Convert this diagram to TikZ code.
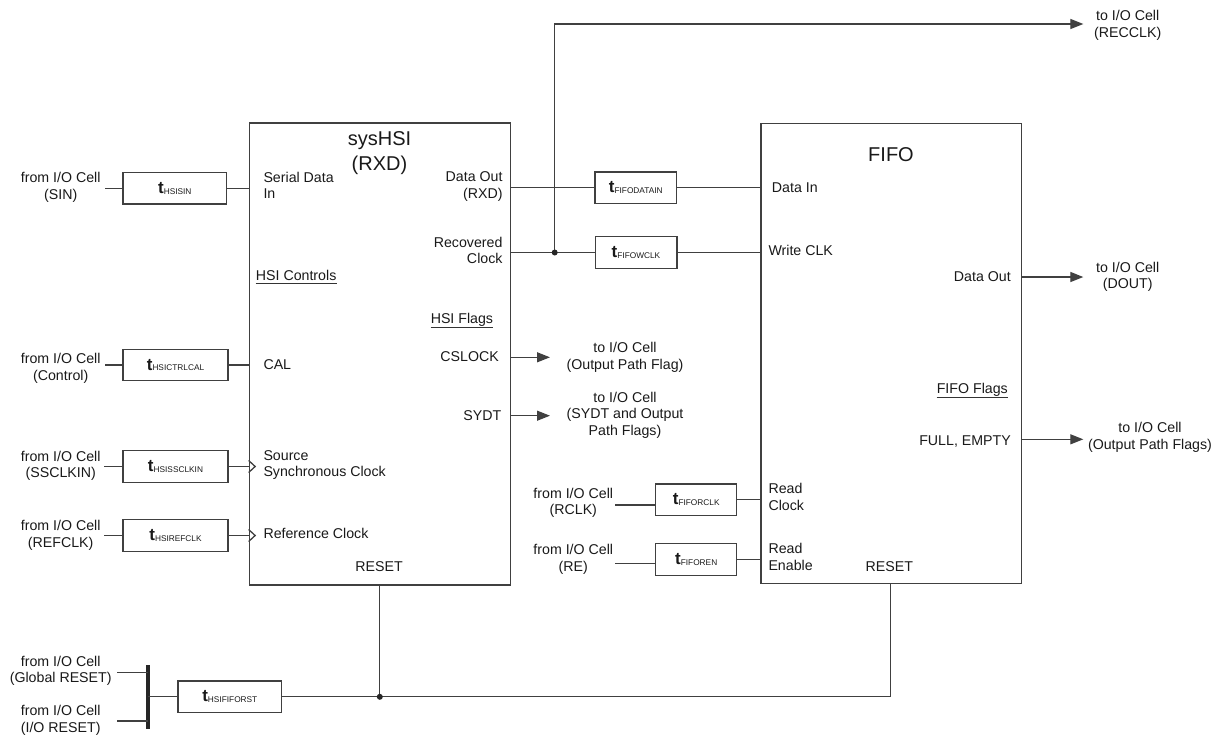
\documentclass[tikz,border=0pt]{standalone}
\usepackage{fontspec}
\setmainfont{Liberation Sans}
\usetikzlibrary{arrows.meta,calc}
\newcommand\lfont{\fontsize{14.2}{16.7}\selectfont}
\newcommand\tfont{\fontsize{20}{25}\selectfont}
\newcommand\lstrut{\rule{0pt}{11.7pt}}
\newcommand\tstrut{\rule{0pt}{16.5pt}}
\newcommand\tdel[1]{{\fontsize{17}{17}\selectfont\bfseries t}\raisebox{-0.8pt}{\fontsize{8.3}{8.3}\selectfont #1}}
\begin{document}
\begin{tikzpicture}[x=1pt,y=-1pt,
  wire/.style={line width=1.3pt, draw=black!75},
  arr/.style={wire, -{Triangle[length=13pt,width=10pt]}},
  txt/.style={inner sep=0pt, font=\lfont, text=black!90},
  lbl/.style={txt, execute at begin node=\lstrut, yshift=11.7pt},
  ttl/.style={inner sep=0pt, font=\tfont, text=black!90, align=center, execute at begin node=\tstrut, yshift=16.5pt, anchor=north},
  blk/.style={wire, draw, inner sep=0pt},
  dbox/.style={wire, draw, inner sep=0pt, minimum height=31.5pt, text=black!90},
  dot/.style={fill=black!85}
]
\useasboundingbox (0,0) rectangle (1212,736);

% main blocks
\node[blk, minimum width=261pt, minimum height=462pt] (hsi) at (379.8,354) {};
\node[blk, minimum width=260.7pt, minimum height=460pt] (fifo) at (891.3,353.3) {};
\node[ttl] (hsititle) at (379.5,148) {sysHSI\\(RXD)};
\node[ttl] (fifotitle) at (891,161.7) {FIFO};

% delay boxes
\node[dbox, minimum width=103.7pt] (dSIN) at (174.8,188.2) {\tdel{HSISIN}};
\node[dbox, minimum width=105pt] (dCAL) at (175.5,365) {\tdel{HSICTRLCAL}};
\node[dbox, minimum width=105pt] (dSSC) at (175.5,466.5) {\tdel{HSISSCLKIN}};
\node[dbox, minimum width=105pt] (dREF) at (175.5,535.5) {\tdel{HSIREFCLK}};
\node[dbox, minimum width=81.7pt] (dData) at (635.8,187.6) {\tdel{FIFODATAIN}};
\node[dbox, minimum width=81.7pt] (dWclk) at (636,252.5) {\tdel{FIFOWCLK}};
\node[dbox, minimum width=81pt] (dRclk) at (696.2,499.6) {\tdel{FIFORCLK}};
\node[dbox, minimum width=81pt] (dRen) at (696.2,559.5) {\tdel{FIFOREN}};
\node[dbox, minimum width=103.7pt] (dRst) at (229.8,696.8) {\tdel{HSIFIFORST}};

% left input labels
\node[lbl, anchor=north, align=center] (lSIN) at (60.7,184) {from I/O Cell\\(SIN)};
\node[lbl, anchor=north, align=center] (lCAL) at (60.7,365) {from I/O Cell\\(Control)};
\node[lbl, anchor=north, align=center] (lSSC) at (60.7,462.3) {from I/O Cell\\(SSCLKIN)};
\node[lbl, anchor=north, align=center] (lREF) at (60.7,531.7) {from I/O Cell\\(REFCLK)};
\node[lbl, anchor=north, align=center] (lGR) at (60.7,667.3) {from I/O Cell\\(Global RESET)};
\node[lbl, anchor=north, align=center] (lIOR) at (60.7,716.7) {from I/O Cell\\(I/O RESET)};

% sysHSI inner labels
\node[lbl, anchor=north west, align=left] (pSDI) at (263.3,183.3) {Serial Data\\In};
\node[txt, anchor=base west] (pHC) at (255.7,280) {HSI Controls};
\draw[line width=0.9pt, black!80] ([yshift=-3.4pt]pHC.base west) -- ([yshift=-3.4pt]pHC.base east);
\node[txt, anchor=base west] (pCAL) at (263.3,369) {CAL};
\node[lbl, anchor=north west, align=left] (pSSC) at (263.3,461.7) {Source\\Synchronous Clock};
\node[txt, anchor=base west] (pREF) at (263.3,538.3) {Reference Clock};
\node[txt, anchor=base] (pRST1) at (379,571.7) {RESET};
\node[lbl, anchor=north east, align=right] (pDO) at (502.7,183.3) {Data Out\\(RXD)};
\node[lbl, anchor=north east, align=right] (pRC) at (502.7,248.3) {Recovered\\Clock};
\node[txt, anchor=base east] (pHF) at (493.3,323.3) {HSI Flags};
\draw[line width=0.9pt, black!80] ([yshift=-4.2pt]pHF.base west) -- ([yshift=-4.2pt]pHF.base east);
\node[txt, anchor=base east] (pCS) at (499,361.7) {CSLOCK};
\node[txt, anchor=base east] (pSY) at (501.5,420.7) {SYDT};

% FIFO inner labels
\node[txt, anchor=base west] (fDI) at (771.7,192.3) {Data In};
\node[txt, anchor=base west] (fWC) at (768.3,255.7) {Write CLK};
\node[txt, anchor=base east] (fDO) at (1011,281.7) {Data Out};
\node[txt, anchor=base east] (fFF) at (1008,393.3) {FIFO Flags};
\draw[line width=0.9pt, black!80] ([yshift=-4.6pt]fFF.base west) -- ([yshift=-4.6pt]fFF.base east);
\node[txt, anchor=base east] (fFE) at (1011,445) {FULL, EMPTY};
\node[lbl, anchor=north west, align=left] (fRC) at (768.3,495) {Read\\Clock};
\node[lbl, anchor=north west, align=left] (fRE) at (768.3,555) {Read\\Enable};
\node[txt, anchor=base] (fRST) at (889.3,571.7) {RESET};

% output / other labels
\node[lbl, anchor=north, align=center] (oCS) at (625,354) {to I/O Cell\\(Output Path Flag)};
\node[lbl, anchor=north, align=center] (oSY) at (625,403.3) {to I/O Cell\\(SYDT and Output\\Path Flags)};
\node[lbl, anchor=north, align=center] (lRCLK) at (573.3,499.3) {from I/O Cell\\(RCLK)};
\node[lbl, anchor=north, align=center] (lRE) at (573.3,555.7) {from I/O Cell\\(RE)};
\node[lbl, anchor=north, align=center] (oREC) at (1127.7,21.7) {to I/O Cell\\(RECCLK)};
\node[lbl, anchor=north, align=center] (oDOUT) at (1127.7,273.3) {to I/O Cell\\(DOUT)};
\node[lbl, anchor=north, align=center] (oFE) at (1150,434) {to I/O Cell\\(Output Path Flags)};

% free ends
\coordinate (inSIN) at (105,188.2);
\coordinate (inCAL) at (105,365);
\coordinate (inSSC) at (104,466.5);
\coordinate (inREF) at (104,535.5);
\coordinate (inRCLK) at (615,505);
\coordinate (inRE) at (615,563.3);
\coordinate (tCS) at (550,357.3);
\coordinate (tSY) at (550,415.7);
\coordinate (tREC) at (1083.3,24);
\coordinate (tDOUT) at (1083.3,277);
\coordinate (tFE) at (1083.3,439.3);
\coordinate (jx) at (554.7,24);
\coordinate (jr) at (jx |- dWclk.west);
\coordinate (barT) at (147.7,665);
\coordinate (barB) at (147.7,729);
\coordinate (inGR) at (117,672.7);
\coordinate (inIOR) at (117,721);
\coordinate (jrst) at (hsi.south |- dRst.east);
\coordinate (frc) at (890.7,696.8);

% left inputs
\draw[wire] (inSIN) -- (inSIN -| dSIN.west);
\draw[wire] (dSIN.east) -- (dSIN.east -| hsi.west);
\draw[wire] (inCAL) -- (inCAL -| dCAL.west);
\draw[wire] (dCAL.east) -- (dCAL.east -| hsi.west);
\draw[wire] (inSSC) -- (inSSC -| dSSC.west);
\draw[wire] (dSSC.east) -- (dSSC.east -| hsi.west);
\draw[wire] (inREF) -- (inREF -| dREF.west);
\draw[wire] (dREF.east) -- (dREF.east -| hsi.west);
% clock chevrons
\draw[wire] ($(dSSC.east -| hsi.west)+(0,-6)$) -- ($(dSSC.east -| hsi.west)+(6.5,0)$) -- ($(dSSC.east -| hsi.west)+(0,6)$);
\draw[wire] ($(dREF.east -| hsi.west)+(0,-6)$) -- ($(dREF.east -| hsi.west)+(6.5,0)$) -- ($(dREF.east -| hsi.west)+(0,6)$);

% sysHSI -> FIFO
\draw[wire] (dData.west -| hsi.east) -- (dData.west);
\draw[wire] (dData.east) -- (dData.east -| fifo.west);
\draw[wire] (dWclk.west -| hsi.east) -- (dWclk.west);
\draw[wire] (dWclk.east) -- (dWclk.east -| fifo.west);
\draw[arr] (jr) -- (jx) -- (tREC);
\fill[dot] (jr) circle (3pt);

% flags
\draw[arr] (tCS -| hsi.east) -- (tCS);
\draw[arr] (tSY -| hsi.east) -- (tSY);
\draw[arr] (tDOUT -| fifo.east) -- (tDOUT);
\draw[arr] (tFE -| fifo.east) -- (tFE);

% FIFO read inputs
\draw[wire] (inRCLK) -- (inRCLK -| dRclk.west);
\draw[wire] (dRclk.east) -- (dRclk.east -| fifo.west);
\draw[wire] (inRE) -- (inRE -| dRen.west);
\draw[wire] (dRen.east) -- (dRen.east -| fifo.west);

% reset
\draw[line width=4pt, black!85] (barT) -- (barB);
\draw[wire] (inGR) -- (inGR -| barT);
\draw[wire] (inIOR) -- (inIOR -| barT);
\draw[wire] (barT |- dRst.west) -- (dRst.west);
\draw[wire] (hsi.south) -- (jrst);
\draw[wire] (dRst.east) -- (frc) -- (frc |- fifo.south);
\fill[dot] (jrst) circle (3pt);
\end{tikzpicture}
\end{document}
